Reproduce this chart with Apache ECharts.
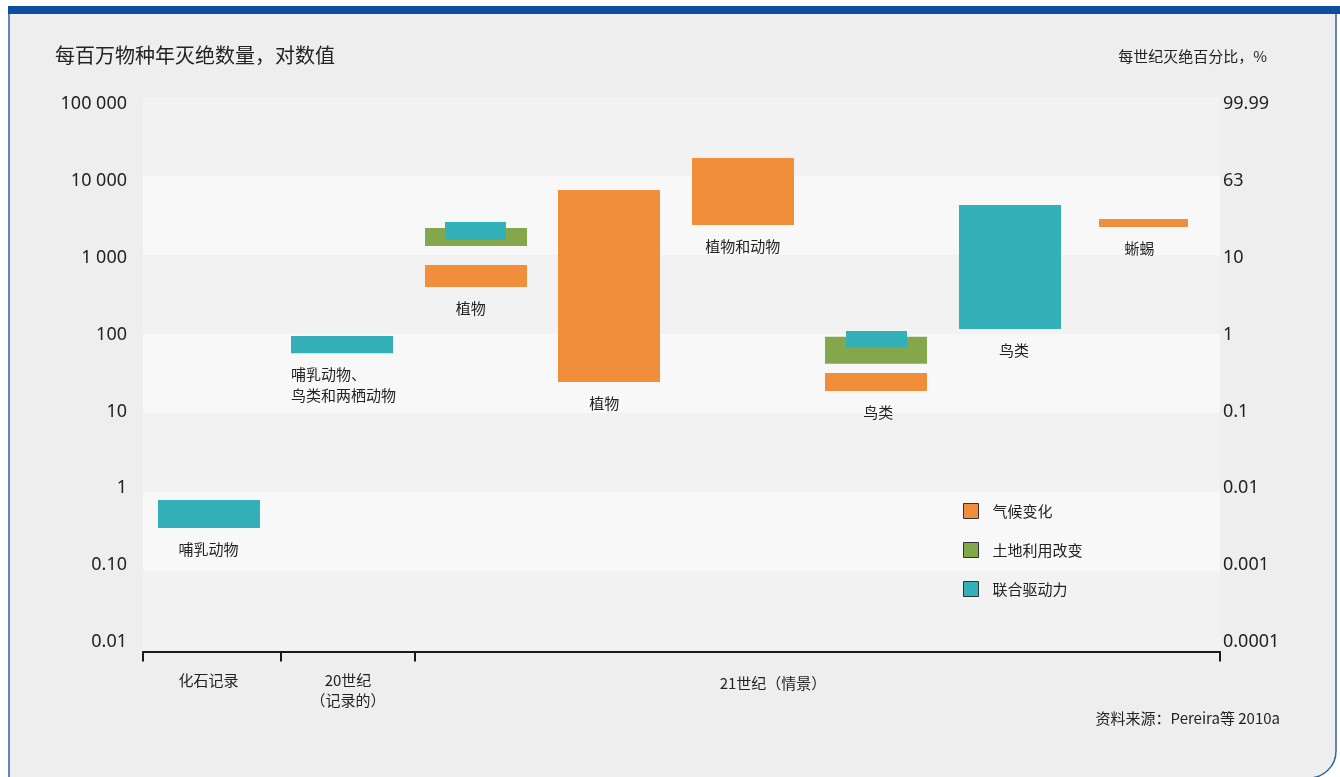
<!DOCTYPE html>
<html><head><meta charset="utf-8">
<script src="https://cdn.jsdelivr.net/npm/echarts@6/dist/echarts.min.js"></script>
<style>html,body{margin:0;padding:0;background:#fff}#c{width:1340px;height:777px}</style>
</head><body><div id="c"></div>
<script>
// ---- data ----
const seriesNames = ['气候变化', '土地利用改变', '联合驱动力'];
// [category index, low value, high value] (extinctions per million species-years)
const climateChange = [[2, 394, 747], [3, 24.7, 6650], [4, 2400, 16900], [5, 19, 32], [7, 2260, 2860]];
const landUseChange = [[2, 1300, 2200], [5, 42, 92]];
const combinedDrivers = [[0, 0.35, 0.79], [1, 57, 94], [2, 1550, 2620], [5, 68, 109], [6, 116, 4300]];
const barLabels = ['哺乳动物', '哺乳动物、\n鸟类和两栖动物', '植物', '植物', '植物和动物', '鸟类', '鸟类', '蜥蜴'];
const leftTickLabels = ['0.01', '0.10', '1', '10', '100', '1 000', '10 000', '100 000'];
const rightTickLabels = ['0.0001', '0.001', '0.01', '0.1', '1', '10', '63', '99.99'];
const groupLabels = ['化石记录', '20世纪\n（记录的）', '21世纪（情景）'];
const groupLabelPos = [0, 1.044, 4.226];
const groupTickPos = [-0.491, 0.5425, 1.546, 7.573];

// ---- styles ----
const colors = ['#f18e3b', '#85a74b', '#34b0b8'];
const textColor = '#222';
const cjk = '"Noto Sans CJK SC","Noto Sans",sans-serif';
const num = '"Noto Sans","Noto Sans CJK SC",sans-serif';
function barWidth(seriesIdx, cat) {
  if (seriesIdx === 2 && (cat === 2 || cat === 5)) return 61;
  if (cat === 7) return 89;
  return 102;
}
const labelAlignLeft = [false, true, false, false, false, false, false, false];
const labelShift = [0, 0, -5, -5, 0, 2, 4, -4];

// label anchors: lowest value of bars in each category
const allBars = climateChange.concat(landUseChange, combinedDrivers);
const labelData = barLabels.map((t, i) => {
  let lo = Infinity;
  allBars.forEach(b => { if (b[0] === i && b[1] < lo) lo = b[1]; });
  return [i, lo, i];
});

function barRender(seriesIdx) {
  return function (params, api) {
    const cat = api.value(0), lo = api.value(1), hi = api.value(2);
    const pLo = api.coord([cat, lo]), pHi = api.coord([cat, hi]);
    const w = barWidth(seriesIdx, cat);
    return {
      type: 'rect',
      shape: { x: Math.round(pLo[0] - w / 2), y: pHi[1], width: w, height: pLo[1] - pHi[1] },
      style: { fill: colors[seriesIdx] }
    };
  };
}

const chart = echarts.init(document.getElementById('c'), null, { renderer: 'canvas' });
chart.setOption({
  backgroundColor: '#ffffff',
  animation: false,
  graphic: [
    { type: 'rect', z: -100, shape: { x: 9, y: 13, width: 1327, height: 765, r: [0, 0, 27, 0] },
      style: { fill: '#eeeeee', stroke: '#2f63ad', lineWidth: 1.5 } },
    { type: 'rect', z: -90, shape: { x: 8, y: 6, width: 1332, height: 8 }, style: { fill: '#0b4e9c' } },
    { type: 'text', left: 55, top: 45, style: { text: '每百万物种年灭绝数量，对数值', font: '20px ' + cjk, fill: textColor } },
    { type: 'text', right: 73, top: 49, style: { text: '每世纪灭绝百分比，%', font: '15px ' + cjk, fill: textColor } },
    { type: 'text', right: 60, top: 711, style: { text: '资料来源：Pereira等 2010a', font: '15px ' + cjk, fill: textColor } }
  ],
  grid: [
    { left: 143, right: 120, top: 97, bottom: 127 },
    { left: 143, right: 120, top: 104, bottom: 135 }
  ],
  legend: {
    data: seriesNames,
    orient: 'vertical', left: 963, top: 503, padding: 0,
    itemWidth: 15, itemHeight: 15, itemGap: 23, icon: 'rect',
    itemStyle: { borderColor: '#333', borderWidth: 1 },
    textStyle: { fontSize: 15, color: textColor, fontFamily: cjk, padding: [0, 0, 0, 9] }
  },
  xAxis: [
    {
      gridIndex: 0, type: 'value', min: -0.491, max: 7.573, offset: 1.5,
      splitLine: { show: false },
      axisLine: { show: true, onZero: false, lineStyle: { color: '#1a1a1a', width: 2 } },
      axisTick: { show: true, customValues: groupTickPos, length: 10, inside: false, lineStyle: { color: '#1a1a1a', width: 2 } },
      axisLabel: {
        show: true, customValues: groupLabelPos, margin: 19,
        fontSize: 15, color: textColor, fontFamily: cjk, lineHeight: 20,
        formatter: function (v) {
          const i = groupLabelPos.indexOf(v);
          if (i < 0) return '';
          return i === 2 ? '{low|' + groupLabels[i] + '}' : groupLabels[i];
        },
        rich: { low: { fontSize: 15, color: textColor, fontFamily: cjk, padding: [5, 0, 0, 0] } }
      }
    },
    { gridIndex: 1, type: 'value', min: 0, max: 1, show: false }
  ],
  yAxis: [
    {
      gridIndex: 0, type: 'log', logBase: 10, min: 0.01, max: 100000, splitNumber: 7,
      axisLine: { show: false }, axisTick: { show: false }, axisLabel: { show: false },
      splitLine: { show: false },
      splitArea: { show: true, areaStyle: { color: ['#f2f2f2', '#f8f8f8'] } }
    },
    {
      gridIndex: 1, type: 'log', logBase: 10, min: 0.01, max: 100000, splitNumber: 7, position: 'left',
      axisLine: { show: false }, axisTick: { show: false }, splitLine: { show: false },
      axisLabel: { margin: 16, fontSize: 18, color: textColor, fontFamily: num,
        formatter: v => leftTickLabels[Math.round(Math.log10(v)) + 2] }
    },
    {
      gridIndex: 1, type: 'log', logBase: 10, min: 0.01, max: 100000, splitNumber: 7, position: 'right',
      axisLine: { show: false }, axisTick: { show: false }, splitLine: { show: false },
      axisLabel: { margin: 3, fontSize: 18, color: textColor, fontFamily: num,
        formatter: v => rightTickLabels[Math.round(Math.log10(v)) + 2] }
    }
  ],
  series: [
    { name: seriesNames[0], type: 'custom', xAxisIndex: 0, yAxisIndex: 0, itemStyle: { color: colors[0] },
      renderItem: barRender(0), data: climateChange, encode: { x: 0, y: [1, 2] } },
    { name: seriesNames[1], type: 'custom', xAxisIndex: 0, yAxisIndex: 0, itemStyle: { color: colors[1] },
      renderItem: barRender(1), data: landUseChange, encode: { x: 0, y: [1, 2] } },
    { name: seriesNames[2], type: 'custom', xAxisIndex: 0, yAxisIndex: 0, itemStyle: { color: colors[2] },
      renderItem: barRender(2), data: combinedDrivers, encode: { x: 0, y: [1, 2] } },
    { name: 'labels', type: 'custom', xAxisIndex: 0, yAxisIndex: 0, silent: true,
      data: labelData, encode: { x: 0, y: 1 },
      renderItem: function (params, api) {
        const cat = api.value(0), lo = api.value(1), idx = api.value(2);
        const p = api.coord([cat, lo]);
        const left = labelAlignLeft[idx];
        const x = left ? Math.round(p[0] - barWidth(2, cat) / 2) : p[0] + labelShift[idx];
        return { type: 'text', x: x, y: p[1] + 11,
          style: { text: barLabels[idx], textAlign: left ? 'left' : 'center', textVerticalAlign: 'top',
            font: '15px ' + cjk, fill: textColor, lineHeight: 21 } };
      }
    }
  ]
});
</script>
</body></html>
